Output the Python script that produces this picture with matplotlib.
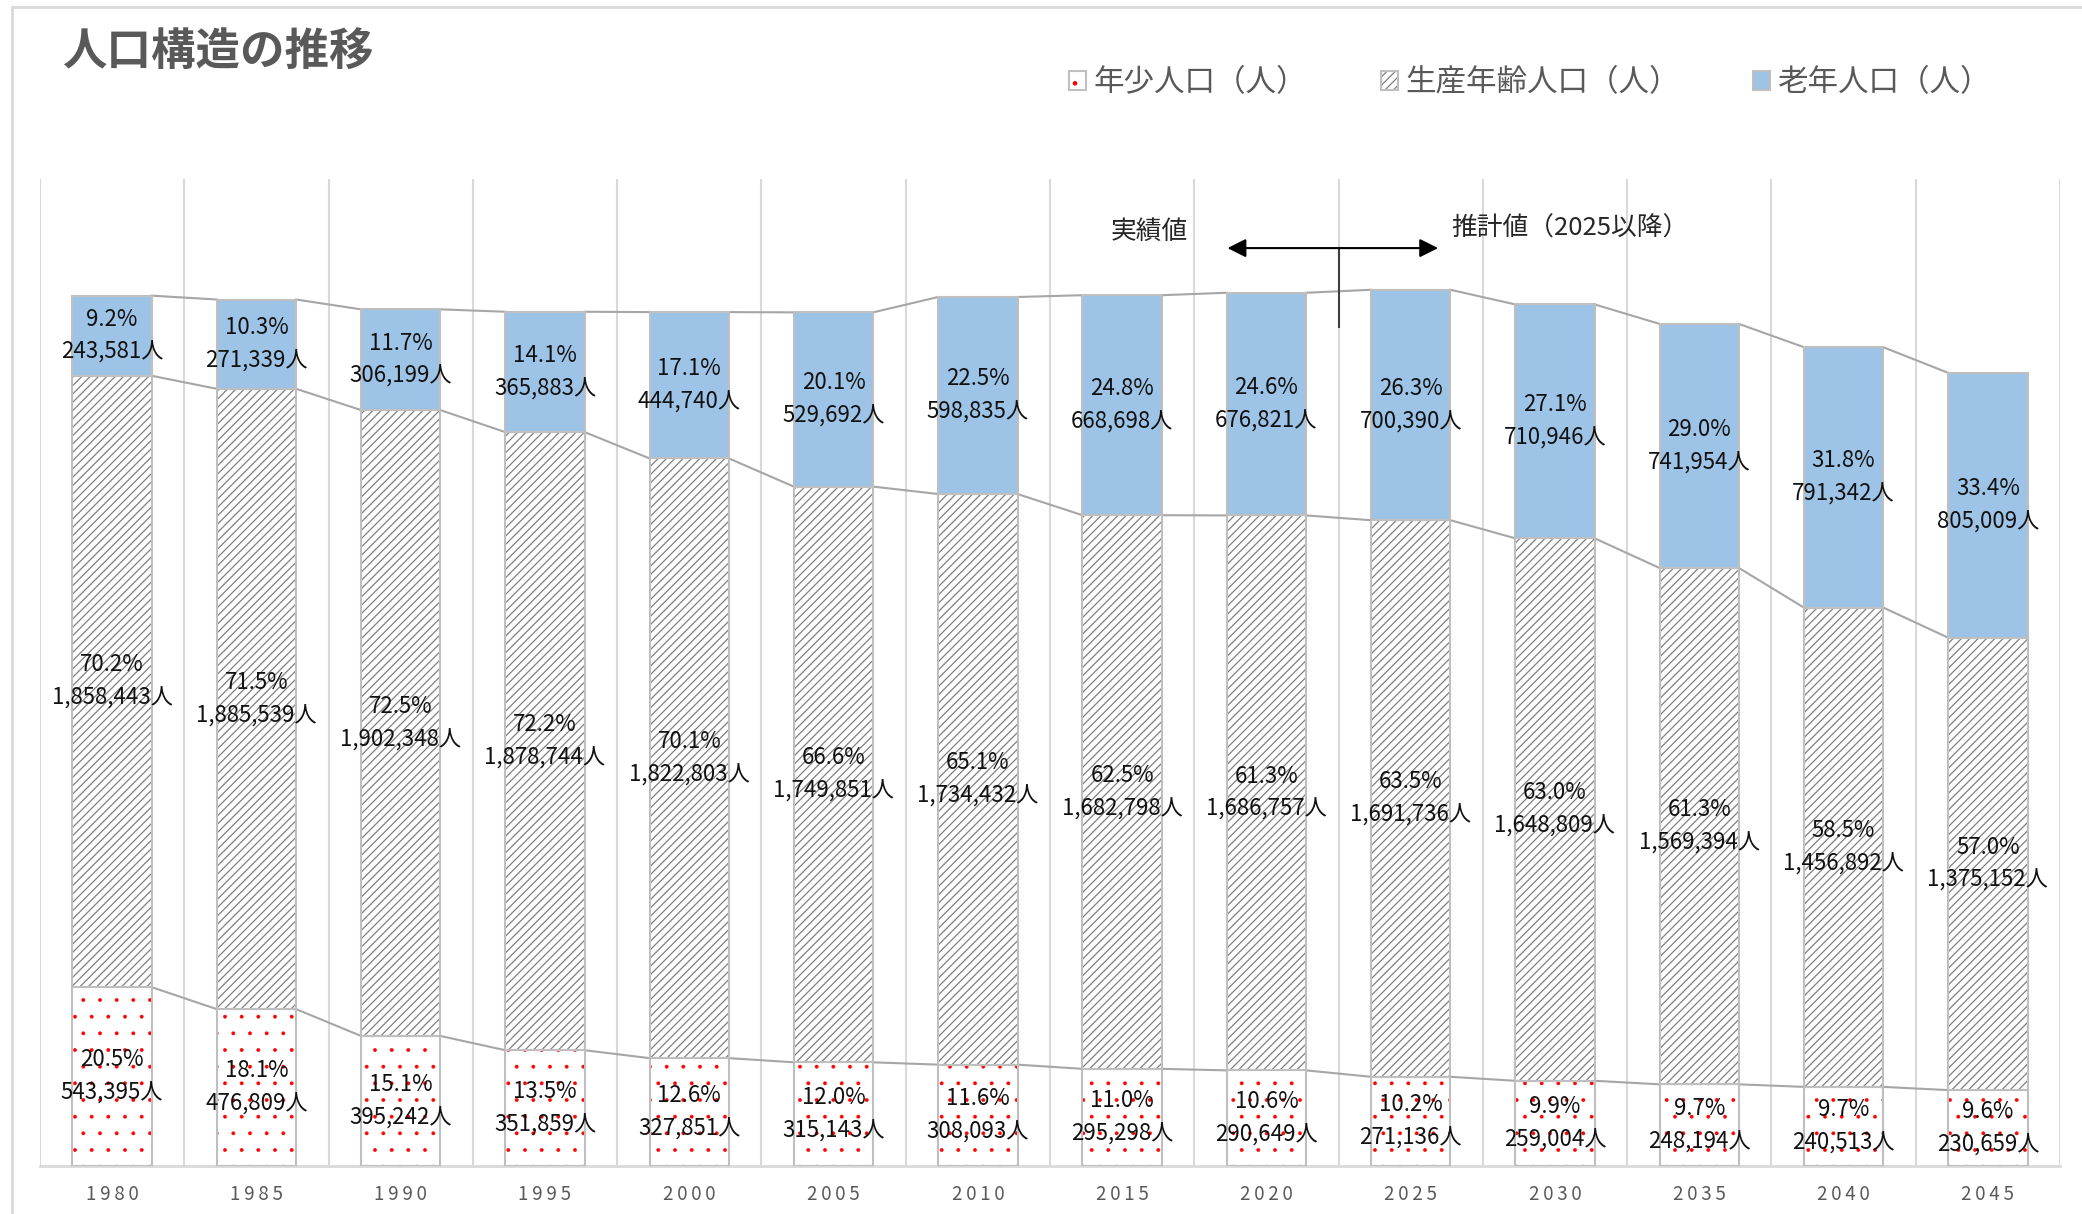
import matplotlib.pyplot as plt
import matplotlib.patches as mpatches
from matplotlib.colors import to_rgba
import numpy as np

plt.rcParams['font.family'] = ['Noto Sans CJK JP', 'DejaVu Sans']
plt.rcParams['hatch.linewidth'] = 0.9

# datos
years = [1980, 1985, 1990, 1995, 2000, 2005, 2010, 2015, 2020, 2025, 2030, 2035, 2040, 2045]
junior = [543395, 476809, 395242, 351859, 327851, 315143, 308093, 295298, 290649, 271136,
          259004, 248194, 240513, 230659]
working = [1858443, 1885539, 1902348, 1878744, 1822803, 1749851, 1734432, 1682798, 1686757,
           1691736, 1648809, 1569394, 1456892, 1375152]
elderly = [243581, 271339, 306199, 365883, 444740, 529692, 598835, 668698, 676821, 700390,
           710946, 741954, 791342, 805009]
pct_junior = [20.5, 18.1, 15.1, 13.5, 12.6, 12.0, 11.6, 11.0, 10.6, 10.2, 9.9, 9.7, 9.7, 9.6]
pct_working = [70.2, 71.5, 72.5, 72.2, 70.1, 66.6, 65.1, 62.5, 61.3, 63.5, 63.0, 61.3, 58.5, 57.0]
pct_elderly = [9.2, 10.3, 11.7, 14.1, 17.1, 20.1, 22.5, 24.8, 24.6, 26.3, 27.1, 29.0, 31.8, 33.4]
names = ['年少人口（人）', '生産年齢人口（人）', '老年人口（人）']

x = np.arange(len(years))
w = 0.55
edge = '#bfbfbf'
jun = np.array(junior)
wor = np.array(working)
eld = np.array(elderly)

fig = plt.figure(figsize=(20.82, 12.14), dpi=100)
ax = fig.add_axes([40 / 2082, 48 / 1214, 2020 / 2082, 987 / 1214])

# barras apiladas (puntos rojos mas finos)
with plt.rc_context({'hatch.linewidth': 0.3}):
    b1 = ax.bar(x, jun, w, color='white', edgecolor=edge, lw=1.5, hatch='.',
                label=names[0], zorder=3)
for p in b1:
    p._hatch_color = to_rgba('red')
    p._hatch_linewidth = 0.3
b2 = ax.bar(x, wor, w, bottom=jun, color='white', edgecolor=edge, lw=1.5, hatch='////',
            label=names[1], zorder=3)
for p in b2:
    p._hatch_color = to_rgba('#7f7f7f')
b3 = ax.bar(x, eld, w, bottom=jun + wor, color='#9dc3e6', edgecolor=edge, lw=1.5,
            label=names[2], zorder=3)

# lineas de serie entre barras
for top in [jun, jun + wor, jun + wor + eld]:
    for i in range(len(x) - 1):
        ax.plot([x[i] + w / 2, x[i + 1] - w / 2], [top[i], top[i + 1]],
                color='#a6a6a6', lw=1.5, zorder=2)

# etiquetas
for bars, vals, pcts in [(b1, junior, pct_junior), (b2, working, pct_working),
                         (b3, elderly, pct_elderly)]:
    for rect, v, pc in zip(bars, vals, pcts):
        cx = rect.get_x() + rect.get_width() / 2
        cy = rect.get_y() + rect.get_height() / 2
        ax.annotate(f'{pc:.1f}%', (cx, cy), xytext=(0, 12), textcoords='offset points',
                    ha='center', va='center', fontsize=16, color='#111111', zorder=5)
        ax.annotate(f'{v:,}人', (cx, cy), xytext=(0, -12), textcoords='offset points',
                    ha='center', va='center', fontsize=16, color='#111111', zorder=5)

# flecha real / estimado
ax.annotate('', xy=(7.73, 2.79e6), xytext=(9.19, 2.79e6),
            arrowprops=dict(arrowstyle='<|-|>', color='black', lw=1.5,
                            mutation_scale=28, shrinkA=0, shrinkB=0))
ax.plot([8.5, 8.5], [2.55e6, 2.79e6], color='#404040', lw=1.5)
ax.text(7.19, 2.84e6, '実績値', ha='center', va='center', fontsize=18.5, color='#262626')
ax.text(9.28, 2.85e6, '推計値（2025以降）', ha='left', va='center', fontsize=18.5,
        color='#262626')

# ejes
ax.set_xlim(-0.5, len(years) - 0.5)
ax.set_ylim(0, 3000000)
ax.set_xticks(x, ['\u2009'.join(str(y)) for y in years])
ax.set_xticks(np.arange(-0.5, len(years)), minor=True)
ax.tick_params(axis='x', which='both', length=0, pad=13, labelsize=13.5, colors='#595959')
ax.set_yticks([])
ax.grid(which='minor', axis='x', color='#d9d9d9', lw=1.5)
ax.set_axisbelow(True)
for s in ['left', 'top', 'right']:
    ax.spines[s].set_visible(False)
ax.spines['bottom'].set_color('#d9d9d9')
ax.spines['bottom'].set_linewidth(2)

ax.legend(handles=[b1, b2, b3], loc='center left', bbox_to_anchor=(1069 / 2082, 1 - 83 / 1214),
          bbox_transform=fig.transFigure, ncol=3, frameon=False, fontsize=22,
          handlelength=0.56, handleheight=0.56, handletextpad=0.25, columnspacing=2.4,
          borderpad=0, borderaxespad=0, labelcolor='#595959')

fig.text(62 / 2082, 1 - 53 / 1214, '人口構造の推移', fontsize=32, weight='bold',
         color='#595959', va='center')
fig.add_artist(mpatches.Rectangle((12 / 2082, -0.05), 1.2, (1214 - 7) / 1214 + 0.05,
                                  transform=fig.transFigure, fill=False,
                                  edgecolor='#d9d9d9', lw=2))

fig.savefig('out.png', dpi=100)
